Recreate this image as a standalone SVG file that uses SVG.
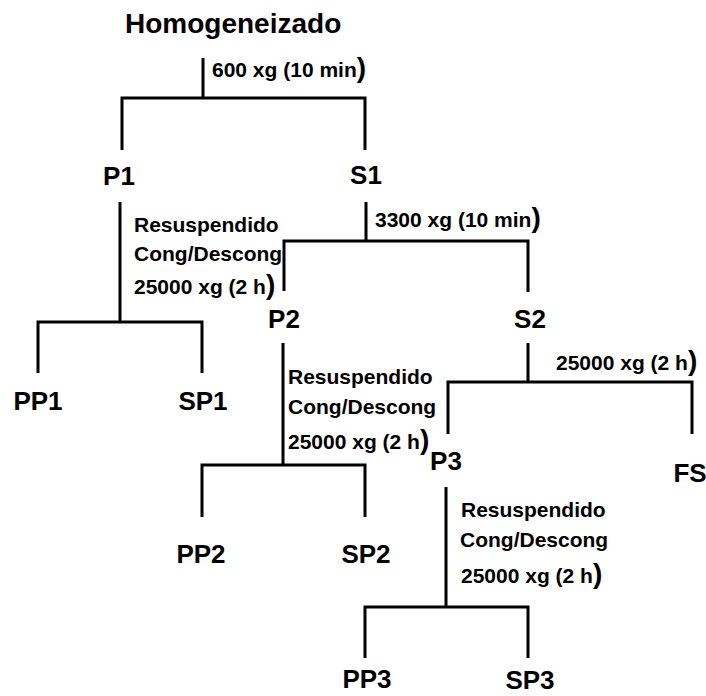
<svg xmlns="http://www.w3.org/2000/svg" width="706" height="696" viewBox="0 0 706 696">
<style>
.n{font-family:"Liberation Sans",Arial,sans-serif;font-weight:700;font-size:26px;fill:#000;text-anchor:middle}
.t{font-family:"Liberation Sans",Arial,sans-serif;font-weight:700;font-size:28px;fill:#000}
.l{font-family:"Liberation Sans",Arial,sans-serif;font-weight:700;font-size:21px;fill:#000}
.b{font-size:28px}
.c{fill:none;stroke:#000;stroke-width:3;stroke-linecap:butt;stroke-linejoin:miter}
</style>
<rect width="706" height="696" fill="#fff"/>
<g id="connectors">
<path class="c" d="M203 58V98M122 150V98H365V150"/>
<path class="c" d="M120 202V322M38 373V322H202V373"/>
<path class="c" d="M366 202V241M284 291V241H528V292"/>
<path class="c" d="M283 343V465M202 517V465H365V517"/>
<path class="c" d="M528 343V382M448 434V382H692V434"/>
<path class="c" d="M446 487V607M365 658V607H528V658"/>
</g>
<g id="edge-labels">
<text class="l" x="212" y="77">600 xg (10 min<tspan class="b">)</tspan></text>
<text class="l" x="375" y="227">3300 xg (10 min<tspan class="b">)</tspan></text>
<text class="l" x="556" y="370">25000 xg (2 h<tspan class="b">)</tspan></text>
<text class="l" x="134" y="232">Resuspendido</text>
<text class="l" x="134" y="261">Cong/Descong</text>
<text class="l" x="134" y="294">25000 xg (2 h<tspan class="b">)</tspan></text>
<text class="l" x="288" y="384">Resuspendido</text>
<text class="l" x="288" y="414">Cong/Descong</text>
<text class="l" x="288" y="449">25000 xg (2 h<tspan class="b">)</tspan></text>
<text class="l" x="461" y="517">Resuspendido</text>
<text class="l" x="460" y="547">Cong/Descong</text>
<text class="l" x="461" y="583">25000 xg (2 h<tspan class="b">)</tspan></text>
</g>
<g id="homogeneizado"><text class="t" x="125" y="33">Homogeneizado</text></g>
<g id="P1"><text class="n" x="119" y="185">P1</text></g>
<g id="S1"><text class="n" x="366" y="184">S1</text></g>
<g id="PP1"><text class="n" x="38" y="410">PP1</text></g>
<g id="SP1"><text class="n" x="203" y="410">SP1</text></g>
<g id="P2"><text class="n" x="284" y="328">P2</text></g>
<g id="S2"><text class="n" x="530" y="328">S2</text></g>
<g id="PP2"><text class="n" x="201" y="563">PP2</text></g>
<g id="SP2"><text class="n" x="366" y="563">SP2</text></g>
<g id="P3"><text class="n" x="446" y="470">P3</text></g>
<g id="FS"><text class="n" x="690" y="482">FS</text></g>
<g id="PP3"><text class="n" x="367" y="688">PP3</text></g>
<g id="SP3"><text class="n" x="530" y="689">SP3</text></g>
</svg>
